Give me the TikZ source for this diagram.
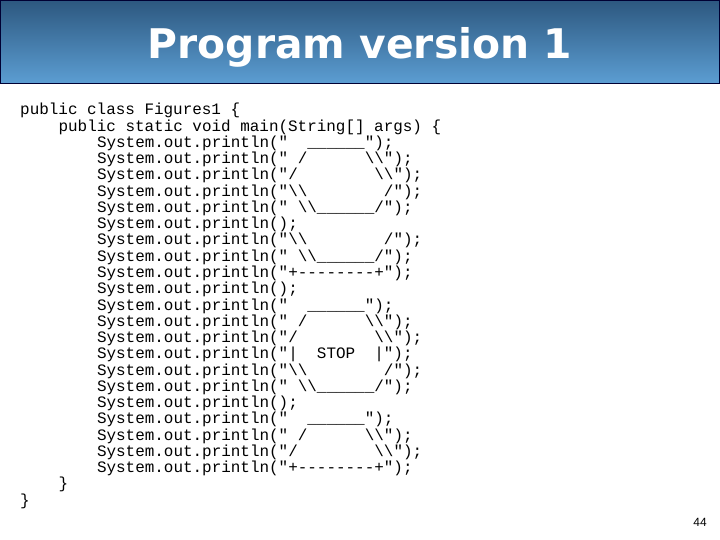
\documentclass[tikz,border=0pt]{standalone}
\usepackage{fontspec}
\setmainfont{Liberation Sans}
\setsansfont{DejaVu Sans}
\setmonofont{Liberation Mono}
\definecolor{bartop}{HTML}{2D5880}
\definecolor{barbot}{HTML}{5C9ED3}
\newcommand\bsl{\textbackslash\textbackslash}
\newcommand\ul{\textunderscore\textunderscore\textunderscore\textunderscore\textunderscore\textunderscore}
\begin{document}
\begin{tikzpicture}[x=1bp,y=-1bp,
  code/.style={anchor=base west,inner sep=0pt,font=\fontsize{16}{16}\ttfamily}]
  \useasboundingbox (0,0) rectangle (720,540);
  \fill[white] (0,0) rectangle (720,540);
  % title bar
  \shade[top color=bartop,bottom color=barbot,draw=black!80!blue,line width=1bp] (0.5,0.5) rectangle (719.5,84);
  \node[text=white,font=\sffamily\bfseries\fontsize{41}{41}\selectfont] (title) at (360,47) {Program version 1};
  % code lines
  \foreach \n/\ind/\txt in {
    0/0/{public\ class\ Figures1\ \{},
    1/4/{public\ static\ void\ main(String[]\ args)\ \{},
    2/8/{System.out.println("\ \ \ul");},
    3/8/{System.out.println("\ /\ \ \ \ \ \ \bsl");},
    4/8/{System.out.println("/\ \ \ \ \ \ \ \ \bsl");},
    5/8/{System.out.println("\bsl\ \ \ \ \ \ \ \ /");},
    6/8/{System.out.println("\ \bsl\ul/");},
    7/8/{System.out.println();},
    8/8/{System.out.println("\bsl\ \ \ \ \ \ \ \ /");},
    9/8/{System.out.println("\ \bsl\ul/");},
    10/8/{System.out.println("+{-}{-}{-}{-}{-}{-}{-}{-}+");},
    11/8/{System.out.println();},
    12/8/{System.out.println("\ \ \ul");},
    13/8/{System.out.println("\ /\ \ \ \ \ \ \bsl");},
    14/8/{System.out.println("/\ \ \ \ \ \ \ \ \bsl");},
    15/8/{System.out.println("|\ \ STOP\ \ |");},
    16/8/{System.out.println("\bsl\ \ \ \ \ \ \ \ /");},
    17/8/{System.out.println("\ \bsl\ul/");},
    18/8/{System.out.println();},
    19/8/{System.out.println("\ \ \ul");},
    20/8/{System.out.println("\ /\ \ \ \ \ \ \bsl");},
    21/8/{System.out.println("/\ \ \ \ \ \ \ \ \bsl");},
    22/8/{System.out.println("+{-}{-}{-}{-}{-}{-}{-}{-}+");},
    23/4/{\}},
    24/0/{\}}}
    \node[code] (line\n) at (20+9.6*\ind,115+16.25*\n) {\txt};
  \node[font=\fontsize{12}{12}\selectfont] (page) at (700,522) {44};
\end{tikzpicture}
\end{document}
